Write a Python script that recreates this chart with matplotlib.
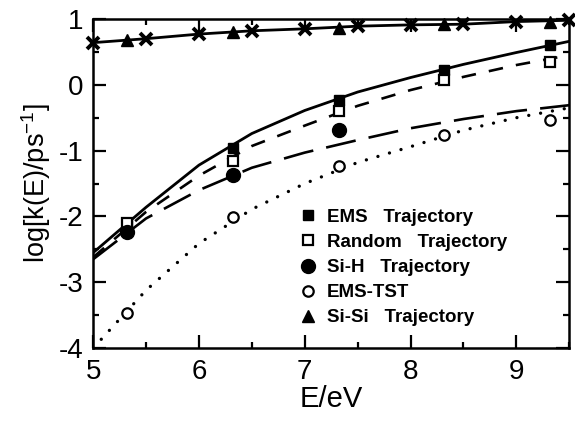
import numpy as np
import matplotlib.pyplot as plt
from matplotlib.ticker import MultipleLocator

plt.rcParams['font.family'] = ['Liberation Sans', 'DejaVu Sans']
plt.rcParams['axes.unicode_minus'] = False

# trajectory energies (eV)
e_pts = [5.32, 6.32, 7.32, 8.32, 9.32]
ems = [-2.13, -0.96, -0.23, 0.22, 0.61]
rand = [-2.10, -1.15, -0.40, 0.08, 0.35]
sih_e = [5.32, 6.32, 7.32]
sih = [-2.24, -1.37, -0.69]
tst = [-3.47, -2.01, -1.24, -0.76, -0.53]
sisi = [0.68, 0.80, 0.86, 0.93, 0.95]

e_fit = [5.0, 5.5, 6.0, 6.5, 7.0, 7.5, 8.0, 8.5, 9.0, 9.5]
ems_fit = [-2.55, -1.86, -1.22, -0.74, -0.39, -0.11, 0.11, 0.31, 0.49, 0.66]
rand_fit = [-2.62, -1.93, -1.38, -0.93, -0.62, -0.32, -0.08, 0.12, 0.30, 0.45]
sih_fit = [-2.65, -2.03, -1.60, -1.26, -1.03, -0.84, -0.66, -0.52, -0.40, -0.31]
tst_fit = [-4.00, -3.12, -2.41, -1.89, -1.50, -1.18, -0.94, -0.69, -0.50, -0.35]
sisi_fit = [0.64, 0.70, 0.77, 0.82, 0.85, 0.89, 0.91, 0.92, 0.96, 0.98]

fig = plt.figure(figsize=(5.75, 4.21), dpi=100)
ax = fig.add_axes([0.162, 0.173, 0.828, 0.782])

ax.plot(e_fit, ems_fit, '-', color='k', lw=2.0)
ax.plot(e_fit, rand_fit, color='k', lw=1.9, linestyle=(0, (5.5, 5)))
ax.plot(e_fit, sih_fit, color='k', lw=1.9, linestyle=(0, (11.5, 5)))
ax.plot(e_fit, tst_fit, color='k', lw=2.4, linestyle=(0, (0.01, 3.6)),
        dash_capstyle='round')
ax.plot(e_fit, sisi_fit, '-', color='k', lw=2.0, marker='x', ms=9, mew=2.8,
        clip_on=False)

ax.plot(e_pts, ems, 's', color='k', ms=7, ls='none', label='EMS   Trajectory')
ax.plot(e_pts, rand, 's', mfc='white', mec='k', mew=1.6, ms=7, ls='none',
        label='Random   Trajectory')
ax.plot(sih_e, sih, 'o', color='k', ms=10, ls='none', label='Si-H   Trajectory')
ax.plot(e_pts, tst, 'o', mfc='white', mec='k', mew=1.6, ms=7.5, ls='none',
        label='EMS-TST')
ax.plot(e_pts, sisi, '^', color='k', ms=8, ls='none', label='Si-Si   Trajectory',
        clip_on=False)

ax.set_xlim(5, 9.5)
ax.set_ylim(-4, 1)
ax.xaxis.set_major_locator(MultipleLocator(1))
ax.xaxis.set_minor_locator(MultipleLocator(0.5))
ax.yaxis.set_major_locator(MultipleLocator(1))
ax.yaxis.set_minor_locator(MultipleLocator(0.5))
ax.tick_params(which='both', direction='in', top=True, right=True, width=1.6)
ax.tick_params(which='major', length=9.5, labelsize=20)
ax.tick_params(which='minor', length=4.5)
ax.tick_params(axis='x', pad=8)
ax.tick_params(axis='y', pad=7)
for s in ax.spines.values():
    s.set_linewidth(1.8)

ax.set_xlabel('E/eV', fontsize=21, labelpad=0)
ax.set_ylabel('log[k(E)/ps$^{\\mathregular{-1}}$]', fontsize=19.5, labelpad=4)

leg = ax.legend(loc='upper left', bbox_to_anchor=(0.431, 0.424), frameon=False,
                prop={'weight': 'bold', 'size': 13.5}, handletextpad=0.53,
                labelspacing=0.43, handlelength=1.0, borderaxespad=0,
                borderpad=0)

fig.savefig('out.png', dpi=100)
